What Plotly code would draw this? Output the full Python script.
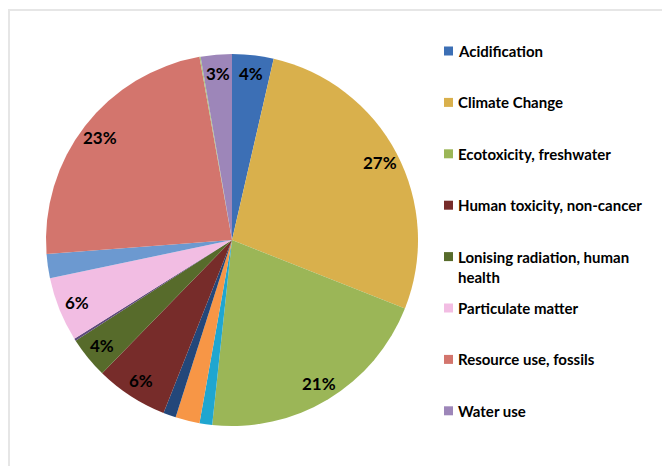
import math
import textwrap
import plotly.graph_objects as go

# Impact categories, clockwise from 12 o'clock
categories = [
    "Acidification",
    "Climate Change",
    "Ecotoxicity, freshwater",
    "Eutrophication, freshwater",
    "Eutrophication, marine",
    "Eutrophication, terrestrial",
    "Human toxicity, non-cancer",
    "Lonising radiation, human health",
    "Land use",
    "Particulate matter",
    "Photochemical ozone formation",
    "Resource use, fossils",
    "Resource use, minerals and metals",
    "Water use",
]
# Share of the total impact (%)
shares = [3.6, 27.4, 20.7, 1.1, 2.1, 1.1, 6.3, 3.6, 0.2, 5.6, 2.1, 23.4, 0.1, 2.7]
colors = [
    "#3C6FB5", "#D9B04C", "#9BB657", "#1FA6D0", "#F79646", "#23477A",
    "#772C2A", "#576B2B", "#5E4A7A", "#F2BDE3", "#6C99D0", "#D3756D",
    "#A9C47C", "#9D86B9",
]
# Categories that carry a percentage label and a legend entry
legend_items = [
    "Acidification",
    "Climate Change",
    "Ecotoxicity, freshwater",
    "Human toxicity, non-cancer",
    "Lonising radiation, human health",
    "Particulate matter",
    "Resource use, fossils",
    "Water use",
]

W, H = 662, 466
FONT = "Lato"
PIE_X = [46 / W, 418 / W]
PIE_Y = [1 - 426 / H, 1 - 54 / H]

fig = go.Figure(
    go.Pie(
        labels=categories,
        values=shares,
        sort=False,
        direction="clockwise",
        rotation=0,
        marker=dict(colors=colors, line=dict(width=0)),
        textinfo="none",
        hoverinfo="label+percent",
        showlegend=False,
        domain=dict(x=PIE_X, y=PIE_Y),
    )
)

annotations = []
shapes = []

# Percentage labels placed near the rim, on each slice's mid-angle
cx = (PIE_X[0] + PIE_X[1]) / 2 * W
cy = (1 - (PIE_Y[0] + PIE_Y[1]) / 2) * H
radius = min((PIE_X[1] - PIE_X[0]) * W, (PIE_Y[1] - PIE_Y[0]) * H) / 2
total = sum(shares)
cum = 0.0
for name, v in zip(categories, shares):
    mid = (cum + v / 2) / total * 2 * math.pi
    cum += v
    if name not in legend_items:
        continue
    r = 0.9 * radius
    px = cx + r * math.sin(mid)
    py = cy - r * math.cos(mid)
    annotations.append(dict(
        xref="paper", yref="paper", x=px / W, y=1 - py / H,
        xanchor="center", yanchor="middle", showarrow=False,
        text="<b>%d%%</b>" % round(v / total * 100),
        font=dict(family=FONT, size=17, color="#000000"),
    ))

# Hand-built legend: colour square plus bold label, one row per entry
row0, row_step = 51.0, 51.4
for i, name in enumerate(legend_items):
    yc = row0 + i * row_step
    col = colors[categories.index(name)]
    shapes.append(dict(
        type="rect", xref="paper", yref="paper",
        x0=444 / W, x1=453 / W, y0=1 - (yc + 4.5) / H, y1=1 - (yc - 4.5) / H,
        fillcolor=col, line=dict(width=0),
    ))
    label = "<br>".join(textwrap.wrap(name, 26))
    annotations.append(dict(
        xref="paper", yref="paper", x=456 / W, y=1 - (yc - 11) / H,
        xanchor="left", yanchor="top", align="left", showarrow=False,
        text="<b>" + label + "</b>",
        font=dict(family=FONT, size=15, color="#000000"),
    ))

# Light chart-area frame
shapes.append(dict(
    type="rect", xref="paper", yref="paper",
    x0=9 / W, x1=1.05, y0=-0.05, y1=1 - 10 / H,
    line=dict(color="#E6E6E6", width=2), fillcolor="rgba(0,0,0,0)", layer="below",
))

fig.update_layout(
    width=W, height=H,
    margin=dict(l=0, r=0, t=0, b=0),
    paper_bgcolor="#FFFFFF",
    plot_bgcolor="#FFFFFF",
    shapes=shapes,
    annotations=annotations,
)

fig.write_html("out.html")
